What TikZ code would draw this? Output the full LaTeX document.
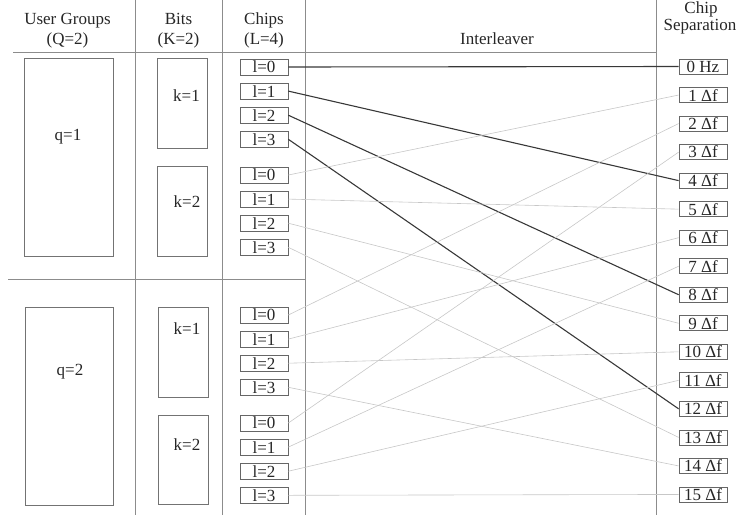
\documentclass[tikz,border=0pt]{standalone}
\usepackage{fontspec}
\setmainfont{Liberation Serif}
\begin{document}
\begin{tikzpicture}[x=1pt,y=-1pt,
  txt/.style={font=\fontsize{17}{20}\selectfont, text=black!85, inner sep=0pt},
  sepline/.style={draw=black!45, line width=0.8pt},
  bigbox/.style={draw=black!55, line width=0.7pt, inner sep=0pt},
  chipbox/.style={draw=black!60, line width=0.7pt, minimum width=48pt, minimum height=16pt, inner sep=0pt, txt},
  freqbox/.style={draw=black!60, line width=0.7pt, minimum width=48pt, minimum height=15pt, inner sep=0pt, txt},
  boldconn/.style={draw=black!78, line width=1.1pt},
  lightconn/.style={draw=black!22, line width=0.6pt}
]
\useasboundingbox (0,0) rectangle (744,515);
% separators
\coordinate (v1t) at (135,0); \coordinate (v1b) at (135,515);
\coordinate (v2t) at (222,0); \coordinate (v2b) at (222,515);
\coordinate (v3t) at (305,0); \coordinate (v3b) at (305,515);
\coordinate (v4t) at (656,0); \coordinate (v4b) at (656,515);
\coordinate (h1l) at (13,52); \coordinate (h1r) at (656,52);
\coordinate (h2l) at (8,279); \coordinate (h2r) at (305,279);
\draw[sepline] (v1t) -- (v1b);
\draw[sepline] (v2t) -- (v2b);
\draw[sepline] (v3t) -- (v3b);
\draw[sepline] (v4t) -- (v4b);
\draw[sepline] (h1l) -- (h1r);
\draw[sepline] (h2l) -- (h2r);
% headers
\node[txt, anchor=base] (hug1) at (67.5,24) {User Groups};
\node[txt, anchor=base] (hug2) at (67.5,44) {(Q=2)};
\node[txt, anchor=base] (hb1) at (178.5,24) {Bits};
\node[txt, anchor=base] (hb2) at (178.5,44) {(K=2)};
\node[txt, anchor=base] (hc1) at (264,24) {Chips};
\node[txt, anchor=base] (hc2) at (264,44) {(L=4)};
\node[txt, anchor=base] (hi) at (497,44) {Interleaver};
\node[txt, anchor=base] (hs1) at (701,13) {Chip};
\node[txt, anchor=base] (hs2) at (700,30) {Separation};
% user group boxes
\node[bigbox, minimum width=89pt, minimum height=198pt] (q1) at (68.5,157) {};
\node[txt] (q1t) at (68,137) {q=1};
\node[bigbox, minimum width=88pt, minimum height=198pt] (q2) at (69,406) {};
\node[txt] (q2t) at (70,372) {q=2};
% bit boxes
\node[bigbox, minimum width=50pt, minimum height=90pt] (b11) at (182,103) {};
\node[txt] (b11t) at (186.5,96) {k=1};
\node[bigbox, minimum width=50pt, minimum height=90pt] (b12) at (182,211) {};
\node[txt] (b12t) at (187,202) {k=2};
\node[bigbox, minimum width=50pt, minimum height=90pt] (b21) at (183,352) {};
\node[txt] (b21t) at (187,329) {k=1};
\node[bigbox, minimum width=50pt, minimum height=89pt] (b22) at (183,459.5) {};
\node[txt] (b22t) at (187,445) {k=2};
% chip and frequency boxes
\foreach \i in {0,...,15} {
  \pgfmathtruncatemacro{\q}{floor(\i/8)}
  \pgfmathtruncatemacro{\k}{floor(mod(\i,8)/4)}
  \pgfmathtruncatemacro{\l}{mod(\i,4)}
  \pgfmathsetmacro{\yc}{67+24.1*\l+108*\k+248*\q}
  \node[chipbox] (c\i) at (264,\yc) {l=\l};
  \pgfmathsetmacro{\yf}{66.5+28.53*\i}
  \ifnum\i=0
    \node[freqbox] (f\i) at (703,\yf) {0 Hz};
  \else
    \node[freqbox] (f\i) at (703,\yf) {\i\ Δf};
  \fi
}
% connectors
\foreach \i in {0,...,15} {
  \pgfmathtruncatemacro{\f}{4*mod(\i,4)+floor(\i/4)}
  \ifnum\i<4
    \draw[boldconn] (c\i.east) -- (f\f.west);
  \else
    \draw[lightconn] (c\i.east) -- (f\f.west);
  \fi
}
\end{tikzpicture}
\end{document}
